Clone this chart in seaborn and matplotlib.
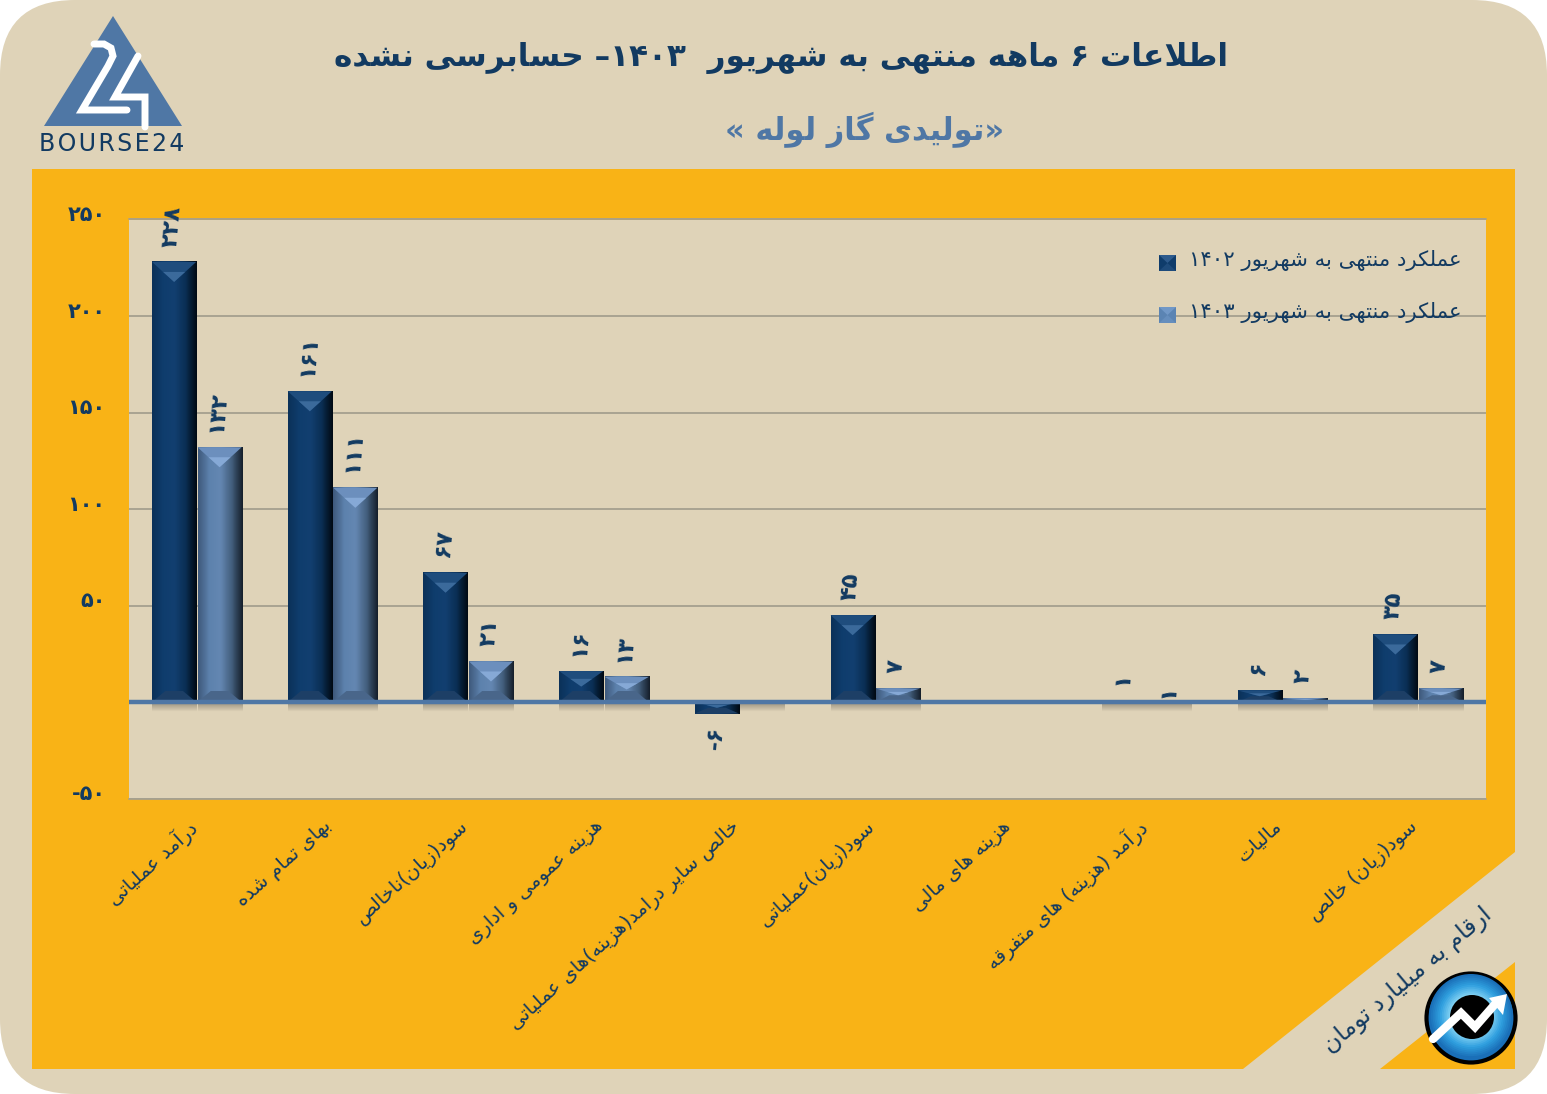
# chart_gas_pipe.py

import numpy as np
import pandas as pd
import seaborn as sns
import matplotlib.pyplot as plt
from matplotlib.patches import FancyBboxPatch, Polygon, Circle
from matplotlib.transforms import ScaledTranslation

# Set seaborn style
sns.set(style="whitegrid")
plt.rcParams['font.family'] = 'DejaVu Sans'

# Presentation forms: isolated, final, initial, medial
forms = {
    'ا': 'ﺍﺎ', 'آ': 'ﺁﺂ', 'د': 'ﺩﺪ', 'ذ': 'ﺫﺬ', 'ر': 'ﺭﺮ', 'ز': 'ﺯﺰ', 'ژ': 'ﮊﮋ', 'و': 'ﻭﻮ',
    'ب': 'ﺏﺐﺑﺒ', 'پ': 'ﭖﭗﭘﭙ', 'ت': 'ﺕﺖﺗﺘ', 'ج': 'ﺝﺞﺟﺠ', 'ح': 'ﺡﺢﺣﺤ', 'خ': 'ﺥﺦﺧﺨ',
    'س': 'ﺱﺲﺳﺴ', 'ش': 'ﺵﺶﺷﺸ', 'ص': 'ﺹﺺﺻﺼ', 'ط': 'ﻁﻂﻃﻄ', 'ع': 'ﻉﻊﻋﻌ', 'ف': 'ﻑﻒﻓﻔ',
    'ق': 'ﻕﻖﻗﻘ', 'ک': 'ﮎﮏﮐﮑ', 'گ': 'ﮒﮓﮔﮕ', 'ل': 'ﻝﻞﻟﻠ', 'م': 'ﻡﻢﻣﻤ', 'ن': 'ﻥﻦﻧﻨ',
    'ه': 'ﻩﻪﻫﻬ', 'ی': 'ﯼﯽﯾﯿ',
}
mirror = {'(': ')', ')': '(', '«': '»', '»': '«'}


def fa(text):
    out = []
    i = 0
    while i < len(text):
        c = text[i]
        prev_joins = i > 0 and len(forms.get(text[i - 1], '')) == 4
        if c == 'ل' and text[i + 1:i + 2] == 'ا':  # lam-alef
            out.append('ﻼ' if prev_joins else 'ﻻ')
            i += 2
            continue
        if c not in forms:
            out.append(mirror.get(c, c))
            i += 1
            continue
        next_joins = text[i + 1:i + 2] in forms
        f = forms[c]
        if prev_joins and next_joins and len(f) == 4:
            out.append(f[3])
        elif prev_joins:
            out.append(f[1])
        elif next_joins and len(f) == 4:
            out.append(f[2])
        else:
            out.append(f[0])
        i += 1
    # Right to left, but the digit runs keep their order
    line = ''.join(out)[::-1]
    result, run = '', ''
    for c in line:
        if c in '۰۱۲۳۴۵۶۷۸۹':
            run += c
        else:
            result += run[::-1] + c
            run = ''
    return result + run[::-1]


# Chart data (billion toman)
year_1402 = fa('عملکرد منتهی به شهریور ۱۴۰۲')
year_1403 = fa('عملکرد منتهی به شهریور ۱۴۰۳')
items = ['درآمد عملیاتی', 'بهای تمام شده', 'سود(زیان)ناخالص', 'هزینه عمومی و اداری',
         'خالص سایر درامد(هزینه)های عملیاتی', 'سود(زیان)عملیاتی', 'هزینه های مالی',
         'درآمد (هزینه) های متفرقه', 'مالیات', 'سود(زیان) خالص']
df = pd.DataFrame({
    'item': [fa(t) for t in items] * 2,
    'year': [year_1402] * 10 + [year_1403] * 10,
    'value': [228, 161, 67, 16, -6, 45, 0, 1, 6, 35,
              132, 111, 21, 13, 0.5, 7, 0, 0.5, 2, 7],
    'label': ['۲۲۸', '۱۶۱', '۶۷', '۱۶', '-۶', '۴۵', '', '۱', '۶', '۳۵',
              '۱۳۲', '۱۱۱', '۲۱', '۱۳', '', '۷', '', '۱', '۲', '۷'],
})

navy = '#123a61'
beige = '#dfd3b8'
orange = '#f9b316'
blue = '#4f77a5'

fig = plt.figure(figsize=(15.47, 10.94), dpi=100, facecolor='white')

# ----- 1. Background Panels -----
back = plt.axes([0, 0, 1, 1])
back.set_xlim(0, 1547)
back.set_ylim(1094, 0)
back.axis('off')
back.add_patch(FancyBboxPatch((0, 0), 1547, 1094, boxstyle="round,pad=0,rounding_size=75",
                              facecolor=beige, edgecolor='none'))
back.add_patch(Polygon([(32, 169), (1515, 169), (1515, 852), (1243, 1069), (32, 1069)], color=orange, lw=0))
back.add_patch(Polygon([(1515, 962), (1515, 1069), (1380, 1069)], color=orange, lw=0))

# ----- 2. Titles -----
back.text(781, 58, fa('اطلاعات ۶ ماهه منتهی به شهریور  ۱۴۰۳– حسابرسی نشده'), color=navy,
          fontsize=22.4, fontweight='bold', ha='center', va='center')
back.text(865, 130, fa('«تولیدی گاز لوله »'), color=blue,
          fontsize=22, fontweight='bold', ha='center', va='center')
back.text(1408, 980, fa('ارقام به میلیارد تومان'), color=navy, fontsize=17,
          rotation=40, ha='center', va='center', rotation_mode='anchor')

# ----- 3. Logo -----
back.add_patch(Polygon([(113, 16), (182, 126), (44, 126)], color=blue, lw=0))
back.plot([94, 104, 111, 113, 108, 82, 127], [44, 44, 48, 56, 66, 110, 110],
          color='white', lw=5, solid_joinstyle='miter')
back.plot([138, 115, 145, 145], [56, 97, 97, 127], color='white', lw=5, solid_joinstyle='miter')
back.text(112, 144, '\u200a'.join('BOURSE24'), color=navy, fontsize=17, ha='center', va='center')

# ----- 4. Grouped Bars -----
ax = plt.axes([129 / 1547, 1 - 798.5 / 1094, 1357 / 1547, 579 / 1094], facecolor=beige)
sns.barplot(data=df, x='item', y='value', hue='year', palette=['#0f3c6b', '#5b84b3'],
            saturation=1, width=0.67, gap=0.03, linewidth=0, ax=ax, zorder=3)
plt.xlim(-0.5, 9.5)
plt.ylim(-50, 250)
plt.xlabel("")
plt.ylabel("")
plt.yticks([-50, 0, 50, 100, 150, 200, 250],
           ['-۵۰', '', '۵۰', '۱۰۰', '۱۵۰', '۲۰۰', '۲۵۰'],
           fontsize=15, fontweight='bold', color=navy)
plt.xticks(rotation=42, ha='right', rotation_mode='anchor', fontsize=14, color=navy)
plt.grid(axis='y', color='#a5a08f', lw=1.3)
plt.grid(axis='x', visible=False)
plt.tick_params(axis='both', length=0)
plt.tick_params(axis='y', pad=17)
plt.tick_params(axis='x', pad=13)
sns.despine(left=True, bottom=True, right=True, top=True)
for tick in ax.get_yticklabels():
    tick.set_transform(tick.get_transform() + ScaledTranslation(0, 4.5 / 72, fig.dpi_scale_trans))
for tick in ax.get_xticklabels():
    tick.set_transform(tick.get_transform() + ScaledTranslation(-7 / 72, 0, fig.dpi_scale_trans))

# Zero line and the edges of the grid
plt.axhline(0, color=blue, lw=3.2, zorder=6)
plt.axhline(250, color='#a5a08f', lw=1.3, clip_on=False)
plt.axhline(-50, color='#a5a08f', lw=1.3, clip_on=False)

# ----- 5. Bevels and Value Labels -----
px_x = 1 / 135.7  # one pixel in data units
px_y = 300 / 579
looks = {0: (['#0b3159', '#0f3d6d', '#123f70', '#0a2f55', '#010a14'], '#1f4d7d', '#3b6a9b', '#1d3f66'),
         1: (['#3f5a7d', '#5d82ad', '#6487b2', '#44607f', '#16202c'], '#6c8fbd', '#86a9d6', '#49668a')}
bars = [p for c in ax.containers for p in c]
for n, bar in enumerate(bars):
    x0 = bar.get_x()
    w = bar.get_width()
    x1 = x0 + w
    xc = (x0 + x1) / 2
    h = bar.get_height()
    row = df.iloc[n]
    stops, top_color, tip_color, foot_color = looks[n // 10]
    if h != 0:
        # Soft shadow under the bar
        shade = np.zeros((12, 2, 4))
        shade[:, :, 3] = np.linspace(0.25, 0, 12)[:, None]
        plt.imshow(shade, extent=(x0, x1, -8 * px_y - 1, -1), aspect='auto', zorder=2)
        # Body shading from edge to edge
        ramp = sns.blend_palette(stops, 40)
        plt.imshow([ramp], extent=(x0, x1, min(h, 0), max(h, 0)), aspect='auto', zorder=3.5)
        depth = min(20 * px_y, abs(h) / 2)
        edge = max(h, 0)
        ax.add_patch(Polygon([(x0, edge), (x1, edge), (xc, edge - depth)],
                             color=top_color, lw=0, zorder=4))
        ax.add_patch(Polygon([(x0 + 0.25 * w, edge - depth * 0.5), (x1 - 0.25 * w, edge - depth * 0.5),
                              (xc, edge - depth)],
                             color=tip_color, lw=0, zorder=4.1))
        foot = min(11 * px_y, abs(h) / 2)
        base = min(h, 0)
        ax.add_patch(Polygon([(x0, base), (x1, base), (x1 - 0.3 * w, base + foot), (x0 + 0.3 * w, base + foot)],
                             color=foot_color, lw=0, zorder=4))
    if row['label']:
        offset = 10
        if row['label'] == '۱' and n // 10 == 1:  # this one sits right on the zero line
            offset = 1
        if h < 0:
            plt.annotate(row['label'], (xc - 2 * px_x, h), xytext=(0, -8), textcoords='offset points',
                         rotation=85, ha='center', va='top', fontsize=16.5, fontweight='bold',
                         color=navy, annotation_clip=False, zorder=7)
        else:
            plt.annotate(row['label'], (xc - 2 * px_x, h), xytext=(0, offset), textcoords='offset points',
                         rotation=85, ha='center', va='bottom', fontsize=16.5, fontweight='bold',
                         color=navy, annotation_clip=False, zorder=7)
plt.xlim(-0.5, 9.5)
plt.ylim(-50, 250)

# ----- 6. Legend -----
leg = plt.legend(loc='upper left', bbox_to_anchor=(0.7590, 0.940), frameon=False, fontsize=15.3,
                 labelcolor=navy, handlelength=0.8, handleheight=0.8, handletextpad=0.6,
                 labelspacing=1.47, borderpad=0, borderaxespad=0)
for label in leg.get_texts():
    label.set_position((0, 4))  # text sits a little above the swatch

# ----- 7. Round Badge -----
top = plt.axes([0, 0, 1, 1], facecolor='none')
top.set_xlim(0, 1547)
top.set_ylim(1094, 0)
top.axis('off')
top.add_patch(Circle((1471, 1018), 44.5, facecolor='#1a6fb8', edgecolor='black', lw=3))
shades = sns.blend_palette(['#1a6fb8', '#2f9fdf', '#7fd0f2'], 12)
for r, shade_color in zip(np.linspace(42, 22, 12), shades):
    top.add_patch(Circle((1471, 1016), r, facecolor=shade_color, lw=0))
top.add_patch(Circle((1472, 1017), 22, facecolor='black', lw=0))
top.plot([1433, 1461, 1475, 1496], [1039, 1013, 1027, 1003], color='white', lw=6, solid_joinstyle='miter')
top.add_patch(Polygon([(1507, 994), (1489, 998), (1503, 1015)], color='white', lw=0))
# Pyramid swatches of the legend
for y, dark, light in [(263, '#0c2f55', '#2d5a8c'), (315, '#34567f', '#7198c7')]:
    top.add_patch(Polygon([(1159, y - 8), (1176, y - 8), (1167.5, y)], color=light, lw=0))
    top.add_patch(Polygon([(1159, y + 8), (1176, y + 8), (1167.5, y)], color=light, alpha=0.5, lw=0))

plt.savefig("out.png", dpi=100)
plt.clf()
